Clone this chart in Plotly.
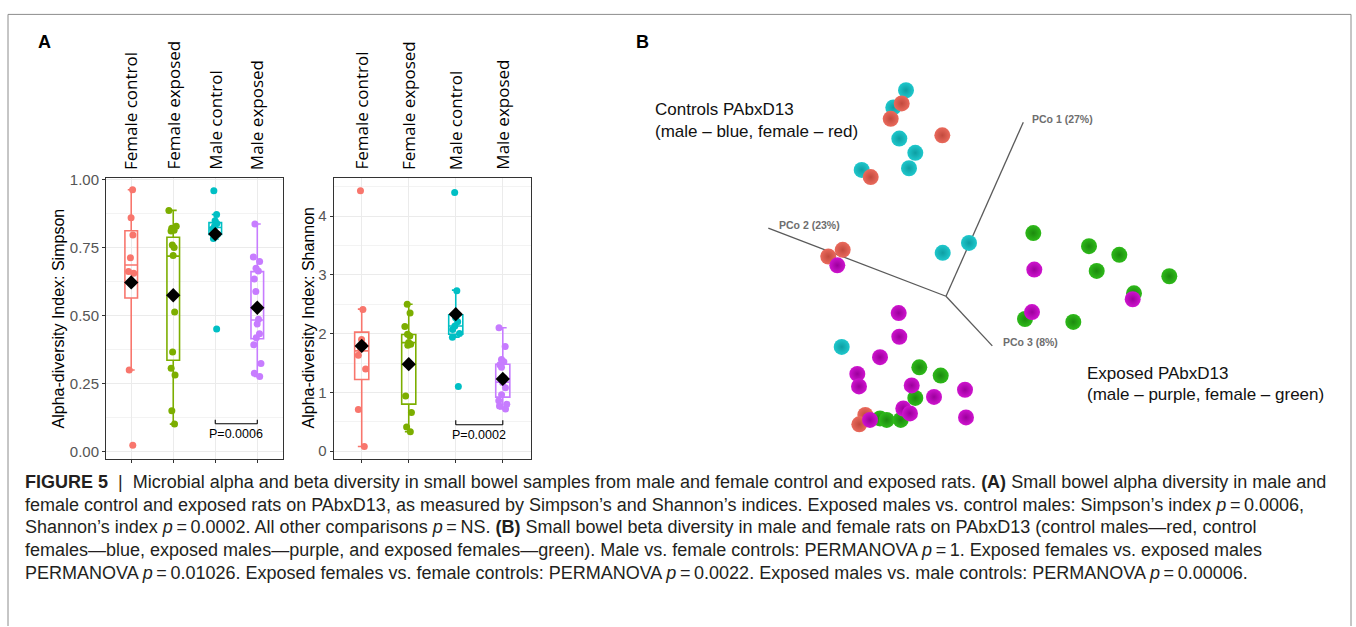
import plotly.graph_objects as go

W, H = 1356, 627

# ---------------- Panel A data ----------------
groups = ["Female control", "Female exposed", "Male control", "Male exposed"]
group_colors = ["#F8766D", "#7CAE00", "#00BFC4", "#C77CFF"]

simpson_female_control = [0.964, 0.861, 0.798, 0.714, 0.663, 0.657, 0.301, 0.024]
simpson_female_exposed = [0.888, 0.830, 0.822, 0.815, 0.812, 0.761, 0.752, 0.722, 0.514, 0.367, 0.307, 0.283, 0.151, 0.102]
simpson_male_control = [0.960, 0.873, 0.850, 0.840, 0.830, 0.820, 0.800, 0.785, 0.452]
simpson_male_exposed = [0.838, 0.717, 0.700, 0.675, 0.665, 0.636, 0.590, 0.488, 0.470, 0.434, 0.420, 0.394, 0.325, 0.289, 0.277]

simpson_lower = [0.301, 0.102, 0.783, 0.277]
simpson_q1 = [0.566, 0.337, 0.800, 0.416]
simpson_median = [0.687, 0.720, 0.825, 0.485]
simpson_q3 = [0.813, 0.789, 0.843, 0.663]
simpson_upper = [0.964, 0.888, 0.873, 0.838]
simpson_mean = [0.623, 0.576, 0.801, 0.530]

shannon_female_control = [4.43, 2.41, 1.90, 1.80, 1.74, 1.63, 1.40, 0.71, 0.08]
shannon_female_exposed = [2.50, 2.35, 2.12, 1.99, 1.96, 1.85, 1.82, 1.80, 0.94, 0.66, 0.41, 0.33]
shannon_male_control = [4.40, 2.73, 2.27, 2.20, 2.13, 2.07, 2.00, 1.94, 1.10]
shannon_male_exposed = [2.10, 1.78, 1.56, 1.52, 1.47, 1.43, 1.25, 1.17, 1.08, 0.96, 0.86, 0.80, 0.77, 0.72]

shannon_lower = [0.08, 0.33, 1.94, 0.72]
shannon_q1 = [1.22, 0.80, 1.99, 0.92]
shannon_median = [1.706, 1.846, 2.13, 1.175]
shannon_q3 = [2.025, 1.986, 2.32, 1.48]
shannon_upper = [2.417, 2.50, 2.74, 2.10]
shannon_mean = [1.79, 1.48, 2.33, 1.23]

simpson_ticks = [0.0, 0.25, 0.5, 0.75, 1.0]
simpson_ticklabels = ["0.00", "0.25", "0.50", "0.75", "1.00"]
shannon_ticks = [0, 1, 2, 3, 4]
shannon_ticklabels = ["0", "1", "2", "3", "4"]

simpson_p_label = "P=0.0006"
shannon_p_label = "P=0.0002"
bracket_groups = [3, 4]  # Male control vs Male exposed

# ---------------- Panel B data (projected PCoA coordinates) ----------------
ctrl_male_x = [-0.400, -0.527, -0.467, -0.307, -0.370, -0.843, -0.033, 0.230, -1.043]
ctrl_male_y = [2.087, 1.913, 1.597, 1.453, 1.297, 1.280, 0.440, 0.540, -0.513]
ctrl_female_x = [-0.443, -0.553, -0.037, -0.753, -1.177, -1.033, -0.807, -0.867]
ctrl_female_y = [1.953, 1.797, 1.630, 1.207, 0.403, 0.470, -1.203, -1.297]
exp_female_x = [0.873, 1.430, 1.733, 1.507, 2.233, 1.880, 0.790, 1.273, -0.267, -0.053, -0.307, -0.660, -0.593, -0.453]
exp_female_y = [0.640, 0.507, 0.420, 0.257, 0.203, 0.030, -0.230, -0.260, -0.720, -0.803, -1.030, -1.237, -1.253, -1.253]
exp_male_x = [-1.087, 0.883, 0.860, 1.867, -0.473, -0.467, -0.660, -0.887, -0.870, -0.343, -0.120, 0.190, 0.200, -0.427, -0.360, -0.760]
exp_male_y = [0.313, 0.270, -0.160, -0.030, -0.170, -0.410, -0.617, -0.787, -0.913, -0.903, -1.020, -0.947, -1.227, -1.137, -1.187, -1.253]

pco_labels = ["PCo 1 (27%)", "PCo 2 (23%)", "PCo 3 (8%)"]
pco_end_x = [0.773, -1.777, 0.463]
pco_end_y = [1.763, 0.690, -0.503]

fig = go.Figure()


def px_x(v):
    return v / W


def px_y(v):
    return 1 - v / H


panels = [
    dict(xa="x", ya="y",
         pts=[simpson_female_control, simpson_female_exposed, simpson_male_control, simpson_male_exposed],
         lower=simpson_lower, q1=simpson_q1, med=simpson_median, q3=simpson_q3, upper=simpson_upper,
         mean=simpson_mean),
    dict(xa="x2", ya="y2",
         pts=[shannon_female_control, shannon_female_exposed, shannon_male_control, shannon_male_exposed],
         lower=shannon_lower, q1=shannon_q1, med=shannon_median, q3=shannon_q3, upper=shannon_upper,
         mean=shannon_mean),
]

for p in panels:
    for i, g in enumerate(groups):
        xi = i + 1
        fig.add_trace(go.Box(
            x=[xi], q1=[p["q1"][i]], median=[p["med"][i]], q3=[p["q3"][i]],
            lowerfence=[p["lower"][i]], upperfence=[p["upper"][i]],
            width=0.3, whiskerwidth=0.55, boxpoints=False,
            line=dict(color=group_colors[i], width=1.6),
            fillcolor="rgba(255,255,255,0)",
            xaxis=p["xa"], yaxis=p["ya"], showlegend=False, hoverinfo="skip"))
        pts = p["pts"][i]
        fig.add_trace(go.Box(
            x=[xi] * len(pts), y=pts, boxpoints="all", jitter=0.75, pointpos=0,
            width=0.3, marker=dict(color=group_colors[i], size=7),
            line=dict(width=0, color="rgba(0,0,0,0)"), fillcolor="rgba(0,0,0,0)",
            xaxis=p["xa"], yaxis=p["ya"], showlegend=False, hoverinfo="y"))
    fig.add_trace(go.Scatter(
        x=[1, 2, 3, 4], y=p["mean"], mode="markers",
        marker=dict(symbol="diamond", size=11, color="black"),
        xaxis=p["xa"], yaxis=p["ya"], showlegend=False, hoverinfo="y"))

# ---------------- Panel B traces ----------------
for ex, ey in zip(pco_end_x, pco_end_y):
    fig.add_trace(go.Scatter(x=[0, ex], y=[0, ey], mode="lines",
                             line=dict(color="#5a5a5a", width=1.3),
                             xaxis="x3", yaxis="y3", showlegend=False, hoverinfo="skip"))

sphere_sets = [
    (ctrl_male_x, ctrl_male_y, "#1FC8CC", "#0E9EA3"),
    (ctrl_female_x, ctrl_female_y, "#EA6A5C", "#C24A3E"),
    (exp_female_x, exp_female_y, "#2EBA1A", "#1C8A0E"),
    (exp_male_x, exp_male_y, "#CF14CF", "#9C009C"),
]
for sx, sy, c, edge in sphere_sets:
    fig.add_trace(go.Scatter(
        x=sx, y=sy, mode="markers",
        marker=dict(size=16, color=c, line=dict(width=0),
                    gradient=dict(type="radial", color=edge)),
        xaxis="x3", yaxis="y3", showlegend=False, hoverinfo="skip"))

annotations = []
shapes = []

# category labels on top
for xa, ref in [("x", "x"), ("x2", "x2")]:
    for i, g in enumerate(groups):
        annotations.append(dict(x=i + 1, xref=ref, y=px_y(167), yref="paper",
                                text=g, textangle=-90, showarrow=False,
                                xanchor="center", yanchor="bottom",
                                font=dict(family="Open Sans", size=17, color="black")))

# y titles
annotations.append(dict(x=px_x(58), y=px_y(315.5), xref="paper", yref="paper",
                        text="Alpha-diversity Index: Simpson", textangle=-90, showarrow=False,
                        xanchor="center", yanchor="middle",
                        font=dict(family="Liberation Sans", size=16, color="black")))
annotations.append(dict(x=px_x(308), y=px_y(315.5), xref="paper", yref="paper",
                        text="Alpha-diversity Index: Shannon", textangle=-90, showarrow=False,
                        xanchor="center", yanchor="middle",
                        font=dict(family="Liberation Sans", size=16, color="black")))

# p-value brackets
for xref, yref, yb, tick, ylab, lab in [("x", "y", 0.103, 0.015, 0.066, simpson_p_label),
                                        ("x2", "y2", 0.45, 0.075, 0.27, shannon_p_label)]:
    a, b = bracket_groups
    shapes.append(dict(type="line", xref=xref, yref=yref, x0=a, x1=b, y0=yb, y1=yb,
                       line=dict(color="black", width=1.1)))
    shapes.append(dict(type="line", xref=xref, yref=yref, x0=a, x1=a, y0=yb, y1=yb + tick,
                       line=dict(color="black", width=1.1)))
    shapes.append(dict(type="line", xref=xref, yref=yref, x0=b, x1=b, y0=yb, y1=yb + tick,
                       line=dict(color="black", width=1.1)))
    annotations.append(dict(x=(a + b) / 2, y=ylab, xref=xref, yref=yref, text=lab,
                            showarrow=False, xanchor="center", yanchor="middle",
                            font=dict(family="Liberation Sans", size=12.5, color="black")))

# panel letters
annotations.append(dict(x=px_x(36), y=px_y(35), xref="paper", yref="paper", text="<b>A</b>",
                        showarrow=False, xanchor="left", yanchor="middle",
                        font=dict(family="Liberation Sans", size=18, color="black")))
annotations.append(dict(x=px_x(634), y=px_y(35), xref="paper", yref="paper", text="<b>B</b>",
                        showarrow=False, xanchor="left", yanchor="middle",
                        font=dict(family="Liberation Sans", size=18, color="black")))

# panel B text
for txt, x, y in [("Controls PAbxD13", 653, 103.5), ("(male – blue, female – red)", 653, 126.5),
                  ("Exposed PAbxD13", 1085, 371), ("(male – purple, female – green)", 1085, 393)]:
    annotations.append(dict(x=px_x(x), y=px_y(y), xref="paper", yref="paper", text=txt,
                            showarrow=False, xanchor="left", yanchor="middle",
                            font=dict(family="Liberation Sans", size=17, color="#111111")))

pco_label_x = [0.84, -1.693, 0.547]
pco_label_y = [1.80, 0.72, -0.463]
for lab, lx, ly in zip(pco_labels, pco_label_x, pco_label_y):
    annotations.append(dict(x=lx, y=ly, xref="x3", yref="y3", text="<b>" + lab + "</b>",
                            showarrow=False, xanchor="left", yanchor="middle",
                            font=dict(family="Liberation Sans", size=10.5, color="#6e6e6e")))

# caption
caption_lines = [
    "<b>FIGURE 5</b>  |  Microbial alpha and beta diversity in small bowel samples from male and female control and exposed rats. <b>(A)</b> Small bowel alpha diversity in male and",
    "female control and exposed rats on PAbxD13, as measured by Simpson’s and Shannon’s indices. Exposed males vs. control males: Simpson’s index <i>p</i>\u2009=\u20090.0006,",
    "Shannon’s index <i>p</i>\u2009=\u20090.0002. All other comparisons <i>p</i>\u2009=\u2009NS. <b>(B)</b> Small bowel beta diversity in male and female rats on PAbxD13 (control males—red, control",
    "females—blue, exposed males—purple, and exposed females—green). Male vs. female controls: PERMANOVA <i>p</i>\u2009=\u20091. Exposed females vs. exposed males",
    "PERMANOVA <i>p</i>\u2009=\u20090.01026. Exposed females vs. female controls: PERMANOVA <i>p</i>\u2009=\u20090.0022. Exposed males vs. male controls: PERMANOVA <i>p</i>\u2009=\u20090.00006.",
]
for k, line in enumerate(caption_lines):
    annotations.append(dict(x=px_x(23), y=px_y(481 + 23 * k), xref="paper", yref="paper",
                            text=line, showarrow=False, xanchor="left", yanchor="middle",
                            font=dict(family="Liberation Sans", size=18, color="#231F20")))

# outer frame
frame_col = "#8c8c8c"
shapes.append(dict(type="line", xref="paper", yref="paper", x0=px_x(8), x1=px_x(1351),
                   y0=px_y(7.5), y1=px_y(7.5), line=dict(color=frame_col, width=1)))
shapes.append(dict(type="line", xref="paper", yref="paper", x0=px_x(8), x1=px_x(8),
                   y0=px_y(7.5), y1=0, line=dict(color=frame_col, width=1)))
shapes.append(dict(type="line", xref="paper", yref="paper", x0=px_x(1351), x1=px_x(1351),
                   y0=px_y(7.5), y1=0, line=dict(color=frame_col, width=1)))

axis_common = dict(showline=True, mirror=True, linecolor="#333333", linewidth=1,
                   zeroline=False, ticks="outside", ticklen=3, tickcolor="#333333",
                   gridcolor="#EBEBEB", gridwidth=1, showgrid=True, fixedrange=True)

ydom = [px_y(458), px_y(173)]

fig.update_layout(
    width=W, height=H, autosize=False,
    margin=dict(l=0, r=0, t=0, b=0),
    paper_bgcolor="white", plot_bgcolor="white",
    boxmode="overlay",
    font=dict(family="Liberation Sans, Arial, sans-serif"),
    xaxis=dict(domain=[px_x(106), px_x(282.5)], range=[0.4, 4.6], tickvals=[1, 2, 3, 4],
               showticklabels=False, anchor="y", **axis_common),
    yaxis=dict(domain=ydom, range=[-0.027, 1.008], tickvals=simpson_ticks, ticktext=simpson_ticklabels,
               tickfont=dict(size=15, color="#555555"), anchor="x",
               minor=dict(dtick=0.125, showgrid=True, gridcolor="#F3F3F3", gridwidth=0.6, ticks=""),
               **axis_common),
    xaxis2=dict(domain=[px_x(333.5), px_x(531)], range=[0.4, 4.6], tickvals=[1, 2, 3, 4],
                showticklabels=False, anchor="y2", **axis_common),
    yaxis2=dict(domain=ydom, range=[-0.135, 4.65], tickvals=shannon_ticks, ticktext=shannon_ticklabels,
                tickfont=dict(size=15, color="#555555"), anchor="x2",
                minor=dict(dtick=0.5, showgrid=True, gridcolor="#F3F3F3", gridwidth=0.6, ticks=""),
                **axis_common),
    xaxis3=dict(domain=[0.5, 1.0], range=[(678 - 946) / 100, (1356 - 946) / 100], visible=False,
                anchor="y3", fixedrange=True),
    yaxis3=dict(domain=[0.0, 1.0], range=[(293 - 627) / 100, 293 / 100], visible=False,
                anchor="x3", fixedrange=True),
    annotations=annotations,
    shapes=shapes,
)

fig.write_html("out.html", config={"displayModeBar": False},
               post_script="document.body.style.margin='0';document.body.style.padding='0';")
